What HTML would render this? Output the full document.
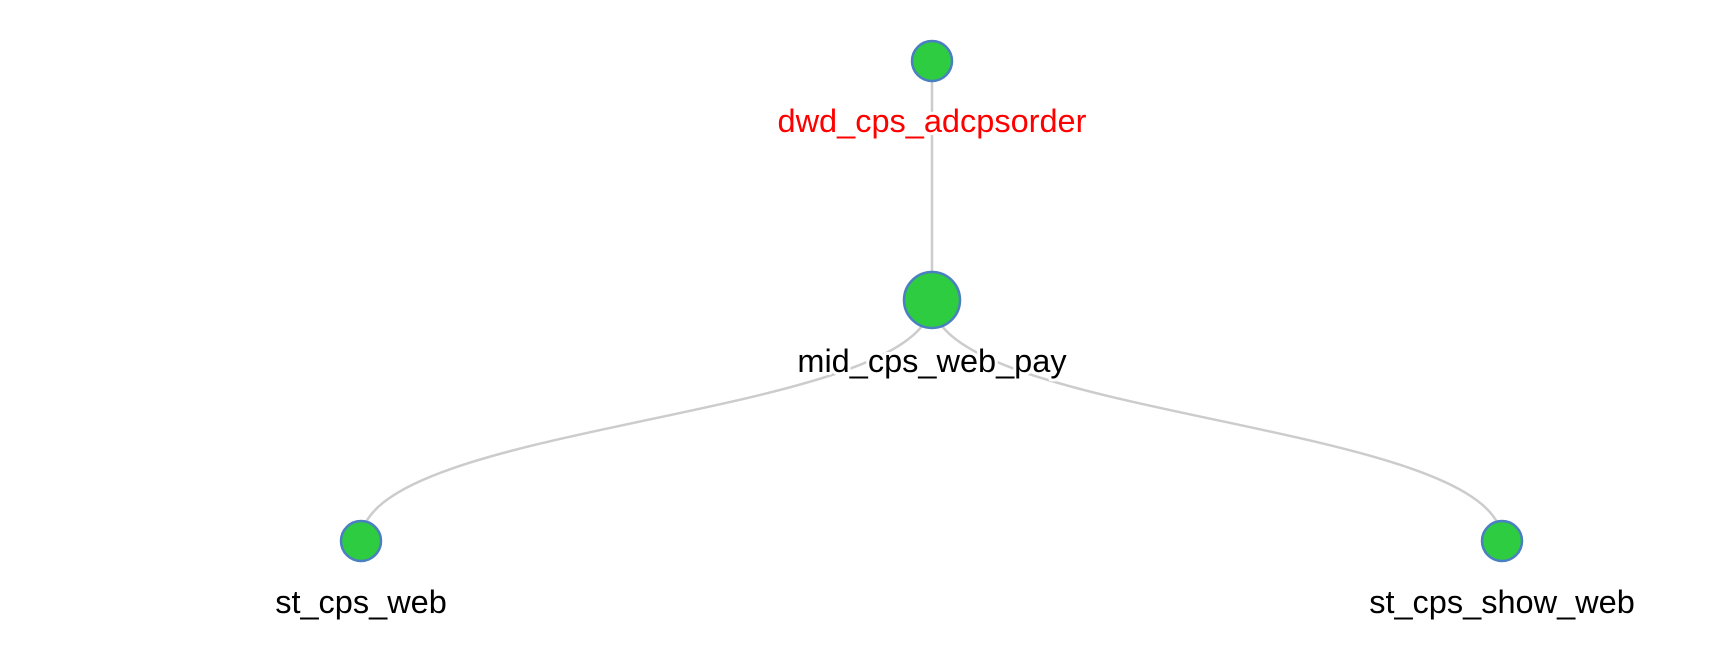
<!DOCTYPE html>
<html><head><meta charset="utf-8"><style>html,body{margin:0;padding:0;background:#fff;}svg{display:block}</style></head>
<body>
<svg width="1712" height="668" viewBox="0 0 1712 668" xmlns="http://www.w3.org/2000/svg">
<g fill="none" stroke="#cccccc" stroke-width="2.5">
<line x1="932" y1="61" x2="932" y2="300"/>
<path d="M932,300 C932,420 361,420 361,541"/>
<path d="M932,300 C932,420 1502,420 1502,541"/>
</g>
<g fill="#2ecc40" stroke="#4a7fc1" stroke-width="2.5">
<circle cx="932" cy="61" r="20"/>
<circle cx="932" cy="300" r="28"/>
<circle cx="361" cy="541" r="20"/>
<circle cx="1502" cy="541" r="20"/>
</g>
<g font-family="Liberation Sans, sans-serif" font-size="32.5" text-anchor="middle" stroke="#fff" stroke-width="6" paint-order="stroke" stroke-linejoin="round">
<text x="932" y="132" fill="#ff0000">dwd_cps_adcpsorder</text>
<text x="932" y="372" fill="#000">mid_cps_web_pay</text>
<text x="361" y="613" fill="#000">st_cps_web</text>
<text x="1502" y="613" fill="#000">st_cps_show_web</text>
</g>
</svg>
</body></html>
